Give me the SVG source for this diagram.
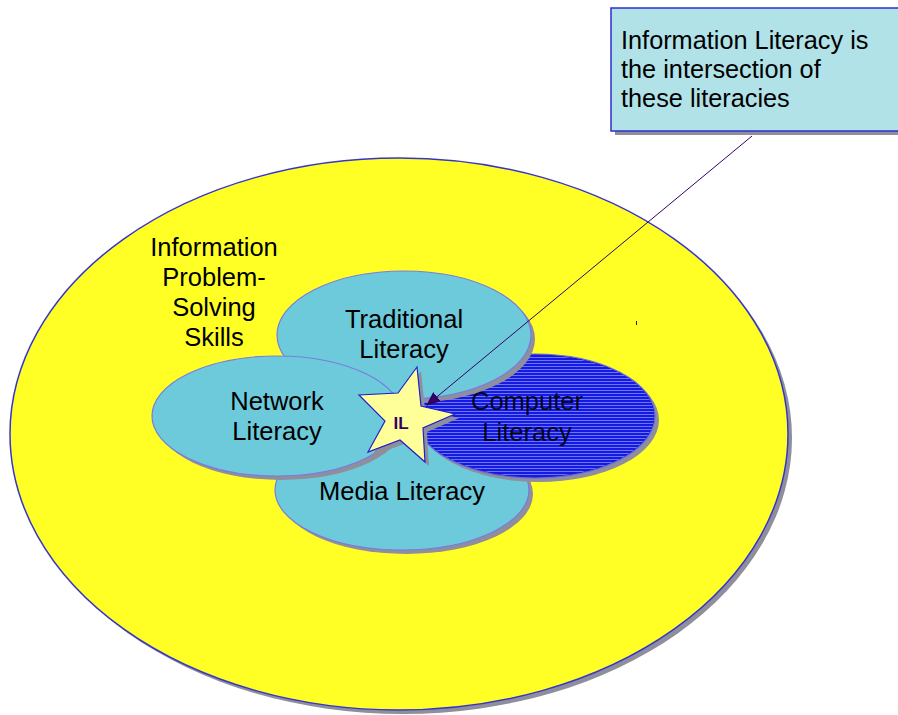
<svg xmlns="http://www.w3.org/2000/svg" width="898" height="715" viewBox="0 0 898 715">
  <style>
    .lbl { font-family: "Liberation Sans", Arial, sans-serif; font-size: 25.5px; fill: #000; text-anchor: middle; }
    .note { font-family: "Liberation Sans", Arial, sans-serif; font-size: 25.3px; fill: #000; }
    .shadow { fill: #8e8e9c; }
    .lit { fill: #6ccadb; stroke: #7b7be0; stroke-width: 1.2; }
  </style>
  <defs>
    <pattern id="stripes" width="4" height="3" patternUnits="userSpaceOnUse">
      <rect width="4" height="1" fill="#7e98ff" fill-opacity="0.75"/>
    </pattern>
    <marker id="arrow" viewBox="0 0 14 12" refX="13" refY="6" markerWidth="14" markerHeight="12" orient="auto" markerUnits="userSpaceOnUse">
      <path d="M0,0 L14,6 L0,12 z" fill="#330066"/>
    </marker>
  </defs>

  <!-- outer circle: information problem-solving skills -->
  <g id="skills">
    <ellipse class="shadow" cx="403" cy="438" rx="389" ry="276"/>
    <ellipse cx="399" cy="434" rx="389" ry="276" fill="#ffff26" stroke="#3535cc" stroke-width="1.5"/>
    <text class="lbl"><tspan x="214" y="256">Information</tspan><tspan x="214" y="286">Problem-</tspan><tspan x="214" y="316">Solving</tspan><tspan x="214" y="346">Skills</tspan></text>
    <rect x="636" y="321" width="1" height="4" fill="#222"/>
  </g>

  <g id="media">
    <ellipse class="shadow" cx="406" cy="494" rx="127" ry="60"/>
    <ellipse class="lit" cx="402" cy="490" rx="127" ry="60"/>
    <text class="lbl" x="402" y="500">Media Literacy</text>
  </g>

  <g id="computer">
    <ellipse class="shadow" cx="539" cy="420" rx="120" ry="62"/>
    <ellipse cx="535" cy="416" rx="120" ry="62" fill="#1818e0" stroke="#6a6ad8" stroke-width="1.2"/>
    <ellipse cx="535" cy="416" rx="119" ry="61" fill="url(#stripes)"/>
    <text class="lbl" fill-opacity="0.9"><tspan x="527" y="410">Computer</tspan><tspan x="527" y="441">Literacy</tspan></text>
  </g>

  <g id="traditional">
    <ellipse class="shadow" cx="408" cy="339" rx="127" ry="64"/>
    <ellipse class="lit" cx="404" cy="335" rx="127" ry="64"/>
    <text class="lbl"><tspan x="404" y="328">Traditional</tspan><tspan x="404" y="358">Literacy</tspan></text>
  </g>

  <g id="network">
    <ellipse class="shadow" cx="281" cy="420" rx="125" ry="60"/>
    <ellipse class="lit" cx="277" cy="416" rx="125" ry="60"/>
    <text class="lbl"><tspan x="277" y="410">Network</tspan><tspan x="277" y="440">Literacy</tspan></text>
  </g>

  <g id="il">
    <polygon class="shadow" transform="translate(4,4)" points="417,367 421,406 455,414 423,428 425,462 400,440 368,452 385,421 359,395 398,393"/>
    <polygon points="417,367 421,406 455,414 423,428 425,462 400,440 368,452 385,421 359,395 398,393" fill="#ffff99" stroke="#2020cc" stroke-width="1.2"/>
    <text x="401" y="429" font-family="'Liberation Sans', Arial, sans-serif" font-size="17" font-weight="bold" fill="#330066" text-anchor="middle">IL</text>
  </g>

  <g id="callout">
    <rect class="shadow" x="615" y="12" width="290" height="123"/>
    <rect x="611" y="8" width="290" height="123" fill="#b0e2e8" stroke="#2e2ecc" stroke-width="1.5"/>
    <text class="note"><tspan x="621" y="49">Information Literacy is</tspan><tspan x="621" y="78">the intersection of</tspan><tspan x="621" y="107">these literacies</tspan></text>
  </g>

  <g id="connectors">
    <line x1="752" y1="136" x2="427" y2="405" stroke="#330066" stroke-width="1" marker-end="url(#arrow)"/>
  </g>
</svg>
